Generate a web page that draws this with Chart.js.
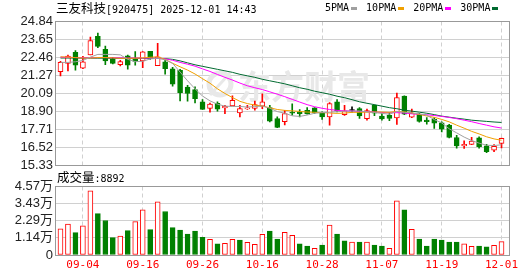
<!DOCTYPE html>
<html><head><meta charset="utf-8">
<script src="https://cdn.jsdelivr.net/npm/chart.js@4.4.0/dist/chart.umd.min.js"></script>
<style>
html,body{margin:0;padding:0;background:#fff;width:530px;height:276px;overflow:hidden;position:relative}
canvas{position:absolute;left:0}
#c1{top:0}
#c2{top:168px}
.t{position:absolute;white-space:nowrap;color:#000;line-height:14px}
.mono{font-family:'DejaVu Sans Mono',monospace;font-size:10px}
.cjk{font-family:'Noto Sans CJK SC',sans-serif;font-size:12.5px}
#legend{display:flex;align-items:center}
#legend .sw{display:inline-block;width:6px;height:3px;margin-left:2px;margin-right:9px}
</style></head><body>
<canvas id="c1" width="530" height="180"></canvas>
<canvas id="c2" width="530" height="108"></canvas>
<div class="t" style="left:56px;top:1px"><span class="cjk">三友科技</span><span class="mono">[920475] 2025-12-01 14:43</span></div>
<div class="t mono" id="legend" style="left:325px;top:1px"></div>
<div class="t" style="left:57px;top:170px"><span class="cjk">成交量</span><span class="mono">:8892</span></div>
<script>
const dates = ['09-01','09-02','09-03','09-04','09-05','09-08','09-09','09-10','09-11','09-12','09-15','09-16','09-17','09-18','09-19','09-22','09-23','09-24','09-25','09-26','09-29','09-30',
'10-09','10-10','10-13','10-14','10-15','10-16','10-17','10-20','10-21','10-22','10-23','10-24','10-27','10-28','10-29','10-30','10-31',
'11-03','11-04','11-05','11-06','11-07','11-10','11-11','11-12','11-13','11-14','11-17','11-18','11-19','11-20','11-21','11-24','11-25','11-26','11-27','11-28','12-01'];
const tickDates = ['09-04','09-16','09-26','10-16','10-28','11-07','11-19','12-01'];

const open = [21.52,22.07,22.79,21.74,22.63,23.85,22.99,22.33,21.98,22.57,22.36,22.22,22.86,21.92,22.17,21.70,21.60,20.50,20.33,19.51,19.08,19.41,19.12,19.25,18.78,19.05,19.08,19.23,19.14,18.40,18.20,18.80,18.85,18.96,19.12,18.75,18.52,19.51,18.67,18.94,19.07,18.40,19.29,18.57,18.63,18.45,19.89,18.50,18.68,18.30,18.35,18.12,17.97,17.15,16.60,16.70,17.13,16.60,16.32,16.76];
const high = [22.20,22.62,22.92,22.53,23.80,24.07,23.21,22.46,22.26,22.62,22.85,22.84,22.87,23.39,22.26,21.80,21.67,20.61,20.51,19.67,19.44,19.51,19.29,19.91,19.29,19.29,19.56,20.04,19.29,18.52,18.96,19.39,19.01,19.14,19.14,18.85,19.47,19.67,19.29,19.19,19.13,19.03,19.32,18.75,18.80,20.10,19.91,19.03,18.75,18.48,18.48,18.19,18.02,17.29,16.94,17.16,17.20,16.70,16.68,17.11];
const low = [21.23,21.56,21.62,21.72,22.62,23.11,21.98,22.03,21.90,21.68,21.95,21.78,22.33,21.91,21.35,20.55,19.58,19.56,19.44,19.01,18.83,18.90,18.73,19.24,18.52,19.01,18.96,19.06,18.19,17.81,17.99,18.63,18.52,18.70,18.75,18.35,17.97,18.85,18.61,18.83,18.41,18.30,18.60,18.30,18.27,18.02,18.67,18.47,18.17,18.04,17.76,17.53,17.13,16.45,16.43,16.68,16.45,16.14,16.21,16.47];
const close = [22.13,22.55,21.95,22.17,23.57,23.19,22.22,22.07,22.18,21.95,22.20,22.83,22.40,22.50,21.71,20.68,20.12,20.07,19.72,19.02,19.36,19.03,19.21,19.62,19.07,19.11,19.33,19.51,18.24,17.82,18.74,18.76,18.74,18.72,18.80,18.52,19.40,18.93,18.92,18.94,18.59,18.93,18.77,18.38,18.41,19.80,18.70,18.75,18.22,18.20,18.10,17.71,17.15,16.59,16.70,16.92,16.55,16.22,16.57,17.09];
const prevClose = 21.60;
const volume = [17400,20700,14900,19400,42800,27600,23000,11600,12700,16300,22300,30100,16900,35500,29000,18300,16700,14000,16000,11800,10500,7400,7800,10500,10000,8500,7100,13800,16000,10700,15200,13200,7400,6000,4500,6700,19900,14000,9400,8700,8700,8700,6700,6000,4500,36100,30100,17200,10700,6000,10700,10000,8700,8700,7400,5800,6000,5400,6500,8892];

const ma5 = [22.13,22.13,22.17,22.26,22.48,22.66,22.66,22.66,22.63,22.33,22.18,22.20,22.36,22.40,22.30,22.07,21.49,20.91,20.38,19.90,19.58,19.36,19.23,19.21,19.21,19.17,19.20,19.24,19.09,18.87,18.76,18.59,18.55,18.64,18.76,18.80,18.83,18.86,18.90,18.90,18.91,18.85,18.81,18.75,18.70,18.88,18.82,18.78,18.72,18.63,18.34,18.12,17.73,17.46,17.18,16.95,16.78,16.64,16.62,16.67];
const ma10 = [22.50,22.48,22.45,22.42,22.42,22.45,22.45,22.43,22.40,22.40,22.41,22.43,22.47,22.50,22.33,22.07,21.84,21.62,21.36,21.05,20.75,20.38,20.07,19.80,19.55,19.40,19.30,19.24,19.12,19.01,18.95,18.92,18.88,18.84,18.82,18.80,18.78,18.75,18.77,18.82,18.82,18.83,18.84,18.84,18.82,18.88,18.85,18.79,18.68,18.58,18.49,18.35,18.19,17.97,17.77,17.56,17.39,17.20,17.06,16.97];
const ma20 = [22.48,22.46,22.45,22.44,22.44,22.45,22.45,22.44,22.43,22.42,22.42,22.42,22.42,22.41,22.37,22.27,22.13,22.01,21.88,21.70,21.53,21.33,21.14,20.96,20.76,20.58,20.45,20.33,20.18,20.02,19.86,19.68,19.50,19.33,19.19,19.09,19.01,18.95,18.92,18.91,18.88,18.87,18.85,18.81,18.79,18.80,18.77,18.72,18.68,18.66,18.61,18.55,18.48,18.40,18.30,18.20,18.08,17.97,17.86,17.78];
const ma30 = [22.42,22.42,22.42,22.41,22.41,22.41,22.41,22.40,22.40,22.40,22.40,22.40,22.40,22.40,22.38,22.33,22.23,22.10,21.97,21.87,21.77,21.67,21.57,21.47,21.34,21.24,21.14,21.01,20.91,20.81,20.71,20.58,20.45,20.35,20.22,20.12,20.02,19.89,19.79,19.66,19.52,19.42,19.33,19.23,19.13,19.06,18.96,18.90,18.83,18.76,18.67,18.57,18.50,18.43,18.37,18.30,18.26,18.22,18.18,18.15];

const maLabels = ['5PMA','10PMA','20PMA','30PMA'];
const maColors = ['#a0a0a0','#f0a000','#ff00ff','#006a30'];
const priceTicks = [24.84,23.65,22.46,21.27,20.09,18.90,17.71,16.52,15.33];
const volTicks = [45700,34300,22900,11400,0];
const volTickLabels = ['4.57万','3.43万','2.29万','1.14万','0'];

const RED='#ff0000', GREEN='#008000';
const tickIdx = tickDates.map(d => dates.indexOf(d));

// legend
const lg = document.getElementById('legend');
maLabels.forEach((l,i)=>{
  const s=document.createElement('span'); s.textContent=l; lg.appendChild(s);
  const w=document.createElement('span'); w.className='sw'; w.style.background=maColors[i]; lg.appendChild(w);
});

Chart.defaults.font.family = "'Liberation Sans','Noto Sans CJK SC',sans-serif";
Chart.defaults.animation = false;

const candleColor = i => close[i] > open[i] ? RED : (close[i] < open[i] ? GREEN : '#000000');
const candleFill = i => close[i] > open[i] ? '#ffffff' : candleColor(i);
const idx = dates.map((d,i)=>i);

const frame = {
  id:'frame',
  beforeDatasetsDraw(chart, args, opts){
    const {ctx, chartArea:a} = chart;
    ctx.save();
    if (opts.watermark){
      ctx.fillStyle = '#e8e8e8';
      ctx.strokeStyle = '#e8e8e8';
      // swirl logo
      ctx.lineWidth = 5;
      ctx.beginPath(); ctx.arc(220, 84, 11, Math.PI*0.75, Math.PI*1.9); ctx.stroke();
      ctx.beginPath(); ctx.arc(220, 84, 11, Math.PI*1.75, Math.PI*0.9); ctx.stroke();
      ctx.lineWidth = 3;
      ctx.beginPath(); ctx.moveTo(210, 95); ctx.lineTo(230, 73); ctx.stroke();
      ctx.font = "bold 33px 'Noto Sans CJK SC'";
      ctx.textBaseline = 'middle';
      ctx.fillText('东方财富', 238, 86);
    }
    ctx.strokeStyle = '#999999'; ctx.lineWidth = 1;
    ctx.strokeRect(Math.round(a.left)-0.5, Math.round(a.top)-0.5, Math.round(a.right)-Math.round(a.left)+1, Math.round(a.bottom)-Math.round(a.top)+1);
    ctx.restore();
  }
};

const xScale = (showLabels) => ({
  type:'linear', min:-0.6, max:60, offset:false,
  afterBuildTicks: s => { s.ticks = tickIdx.map(v=>({value:v})); },
  afterFit: s => { s.height = showLabels ? 21 : 0; },
  ticks:{display:showLabels, autoSkip:false, maxRotation:0, padding:4, color:RED,
    font:{family:"'DejaVu Sans Mono',monospace", size:11},
    callback: v => dates[v] },
  grid:{color:'#d0d0d0', drawTicks:false, offset:false},
  border:{display:false, dash:[4,3]}
});

new Chart(document.getElementById('c1'), {
  type:'bar',
  data:{ datasets:[
    ...[ma5,ma10,ma20,ma30].map((m,k)=>({type:'line', label:maLabels[k], data:idx.map(i=>({x:i,y:m[i]})),
      borderColor:maColors[k], borderWidth:1, pointRadius:0, fill:false, tension:0, order:0})),
    {label:'body', data:idx.map(i=>({x:i,y:[open[i],close[i]]})), backgroundColor:idx.map(candleFill),
      borderColor:idx.map(candleColor), borderWidth:1, borderSkipped:false, barThickness:5, minBarLength:1, grouped:false, order:1},
    {label:'wick', data:idx.map(i=>({x:i,y:[low[i],high[i]]})), backgroundColor:idx.map(candleColor),
      borderWidth:0, barThickness:1, grouped:false, order:2}
  ]},
  options:{
    responsive:false, devicePixelRatio:1, animation:false,
    layout:{padding:{left:0,right:21,top:21.5,bottom:15}},
    plugins:{legend:{display:false}, tooltip:{enabled:false}, frame:{watermark:true}},
    scales:{
      x: xScale(false),
      y:{ min:15.33, max:24.84, position:'left',
        afterFit: s => { s.width = 56; },
        afterBuildTicks: s => { s.ticks = priceTicks.map(v=>({value:v})); },
        ticks:{ autoSkip:false, callback: v => v.toFixed(2), color:'#222', padding:3, font:{size:13} },
        grid:{color:'#d0d0d0', drawTicks:false}, border:{display:false} }
    }
  },
  plugins:[frame]
});

const volColor = i => (close[i] >= (i===0 ? prevClose : close[i-1])) ? RED : GREEN;
new Chart(document.getElementById('c2'), {
  type:'bar',
  data:{ datasets:[
    {label:'vol', data:idx.map(i=>({x:i,y:volume[i]})),
      backgroundColor:idx.map(i=> volColor(i)===RED ? '#ffffff' : GREEN),
      borderColor:idx.map(volColor), borderWidth:1, borderSkipped:false, barThickness:5, grouped:false}
  ]},
  options:{
    responsive:false, devicePixelRatio:1, animation:false,
    layout:{padding:{left:0,right:21,top:18.5,bottom:0}},
    plugins:{legend:{display:false}, tooltip:{enabled:false}, frame:{watermark:false}},
    scales:{
      x: xScale(true),
      y:{ min:0, max:45700, position:'left',
        afterFit: s => { s.width = 56; },
        afterBuildTicks: s => { s.ticks = volTicks.map(v=>({value:v})); },
        ticks:{ autoSkip:false, callback: v => volTickLabels[volTicks.indexOf(v)], color:'#222', padding:3, font:{size:13} },
        grid:{color:'#d0d0d0', drawTicks:false}, border:{display:false} }
    }
  },
  plugins:[frame]
});
</script>
</body></html>
